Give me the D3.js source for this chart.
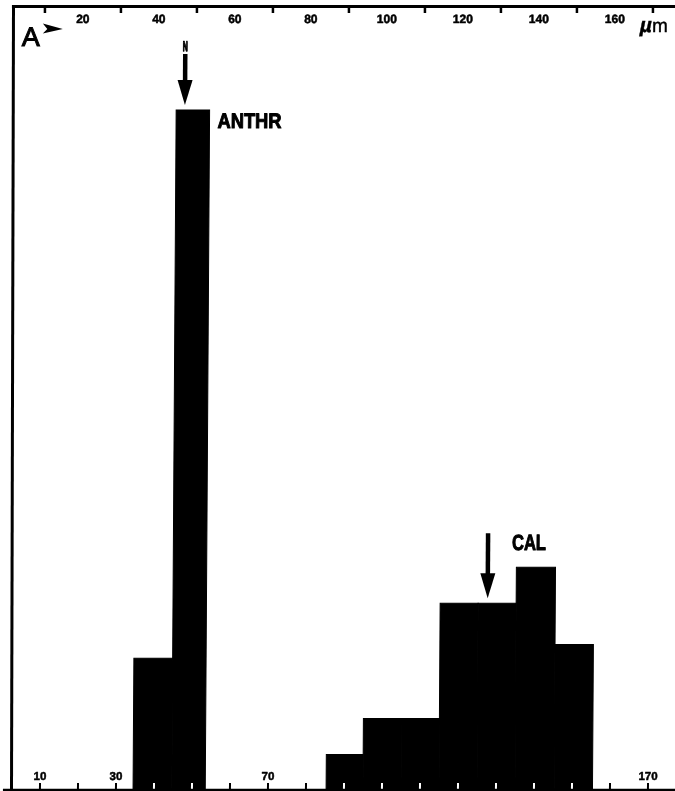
<!DOCTYPE html>
<html>
<head>
<meta charset="utf-8">
<script src="https://cdn.jsdelivr.net/npm/d3@7"></script>
<style>
  html, body { margin: 0; padding: 0; background: #fff; }
  svg { display: block; }
</style>
</head>
<body>
<script>
// Grain-size classes (µm) and their relative frequency (%)
const binStart = [34.5, 44.7, 85.3, 95, 105, 115, 125, 135, 145.3];
const binEnd   = [44.7, 53.5, 95, 105, 115, 125, 135, 145.3, 155.4];
const freq     = [7.6, 39.5, 2.0, 4.1, 4.1, 10.8, 10.8, 12.9, 8.4];

// Mean size of each population, marked by an arrow
const markerNames = ["ANTHR", "CAL"];
const markerSize  = [47, 127.5];
const markerBin   = [1, 6];

// Axis ticks and labels (µm)
const topTicks     = [10, 30, 50, 70, 90, 110, 130, 150, 170];
const topLabels    = [20, 40, 60, 80, 100, 120, 140, 160];
const bottomTicks  = [10, 20, 30, 40, 50, 60, 70, 80, 90, 100, 110, 120, 130, 140, 150, 160, 170];
const bottomLabels = [10, 30, 70, 170];

const W = 675, H = 791;
const baseY = 789;

const svg = d3.select("body").append("svg")
  .attr("width", W).attr("height", H)
  .attr("viewBox", `0 0 ${W} ${H}`);

svg.append("rect").attr("width", W).attr("height", H).attr("fill", "#fff");

const x = d3.scaleLinear().domain([10, 170]).range([45, 653]);
const y = d3.scaleLinear().domain([0, 45]).range([baseY, 15.5]);

// The whole plate leans very slightly to the right towards the top
const g = svg.append("g").attr("transform", "skewX(-0.366)");

const font = "'Liberation Sans', Arial, Helvetica, sans-serif";

// Heavy lettering helper: bold face thickened with a thin outline
function heavy(sel, w) {
  return sel.attr("font-family", font).attr("font-weight", "bold")
    .attr("fill", "#000").attr("stroke", "#000").attr("stroke-width", w)
    .attr("stroke-linejoin", "round");
}

// Top scale
g.append("line")
  .attr("x1", 12).attr("x2", W + 10).attr("y1", 6.5).attr("y2", 6.5)
  .attr("stroke", "#000").attr("stroke-width", 3);

g.append("g").selectAll("line").data(topTicks).join("line")
  .attr("x1", d => x(d)).attr("x2", d => x(d))
  .attr("y1", 6).attr("y2", 13)
  .attr("stroke", "#000").attr("stroke-width", 2.5);

heavy(g.append("g").selectAll("text").data(topLabels).join("text"), 0.5)
  .attr("x", d => x(d)).attr("y", 23)
  .attr("text-anchor", "middle")
  .attr("font-size", 12)
  .text(d => d);

// Bottom scale labels (drawn first so the bars sit over them)
heavy(g.append("g").selectAll("text").data(bottomLabels).join("text"), 0.5)
  .attr("x", d => x(d)).attr("y", 780)
  .attr("text-anchor", "middle")
  .attr("font-size", 11.5)
  .text(d => d);

// Histogram bars
g.append("g").selectAll("rect").data(freq).join("rect")
  .attr("x", (d, i) => x(binStart[i]))
  .attr("width", (d, i) => x(binEnd[i]) - x(binStart[i]))
  .attr("y", d => y(d))
  .attr("height", d => baseY - y(d))
  .attr("fill", "#000")
  .attr("stroke", "#000").attr("stroke-width", 1);

// Bottom ticks: dark on paper, light where they cross the bars
g.append("g").selectAll("line").data(bottomTicks).join("line")
  .attr("x1", d => x(d)).attr("x2", d => x(d))
  .attr("y1", 783).attr("y2", baseY)
  .attr("stroke", "#fff").attr("stroke-width", 2)
  .style("mix-blend-mode", "difference");

g.append("line")
  .attr("x1", 8).attr("x2", W + 10).attr("y1", 790).attr("y2", 790)
  .attr("stroke", "#000").attr("stroke-width", 2.5);

// Mean-size arrows
const arrowLen = [51, 65], headLen = 25, headHalf = 7.5, shaftW = 4.5;
markerNames.forEach((name, i) => {
  const ax = x(markerSize[i]);
  const tip = y(freq[markerBin[i]]) - 5;
  const top = tip - arrowLen[i];
  g.append("rect")
    .attr("x", ax - shaftW / 2).attr("width", shaftW)
    .attr("y", top).attr("height", arrowLen[i] - headLen + 1)
    .attr("fill", "#000");
  g.append("path")
    .attr("d", `M${ax - headHalf},${tip - headLen} L${ax + headHalf},${tip - headLen} L${ax},${tip} Z`)
    .attr("fill", "#000");
});

// Small mark above the first arrow
heavy(g.append("text"), 1.3)
  .attr("x", x(markerSize[0])).attr("y", 51)
  .attr("text-anchor", "middle")
  .attr("font-size", 14).attr("textLength", 5).attr("lengthAdjust", "spacingAndGlyphs")
  .text("N");

// Population labels
heavy(g.append("text"), 1)
  .attr("x", x(binEnd[1]) + 8).attr("y", y(freq[1]) + 18)
  .attr("font-size", 21).attr("textLength", 64).attr("lengthAdjust", "spacingAndGlyphs")
  .text(markerNames[0]);

heavy(g.append("text"), 1)
  .attr("x", x(markerSize[1]) + 24).attr("y", y(freq[markerBin[1]]) - 53)
  .attr("font-size", 22).attr("textLength", 34).attr("lengthAdjust", "spacingAndGlyphs")
  .text(markerNames[1]);

// Panel letter with pointer
g.append("text")
  .attr("x", 22).attr("y", 46)
  .attr("font-family", font)
  .attr("font-size", 27)
  .attr("stroke", "#000").attr("stroke-width", 1)
  .text("A");
g.append("path")
  .attr("d", "M43,23.5 L63,29 L43,33.5 L47.5,29 Z")
  .attr("fill", "#000");

// Unit
const unit = g.append("text")
  .attr("x", 640).attr("y", 32)
  .attr("font-family", font)
  .attr("font-size", 19)
  .attr("stroke", "#000").attr("stroke-width", 0.4);
unit.append("tspan").attr("font-style", "italic").attr("font-weight", "bold")
  .attr("font-size", 21).text("µ");
unit.append("tspan").text("m");

// Left edge of the frame
svg.append("line")
  .attr("x1", 13.5).attr("y1", 5).attr("x2", 11.5).attr("y2", H)
  .attr("stroke", "#000").attr("stroke-width", 3);
</script>
</body>
</html>
